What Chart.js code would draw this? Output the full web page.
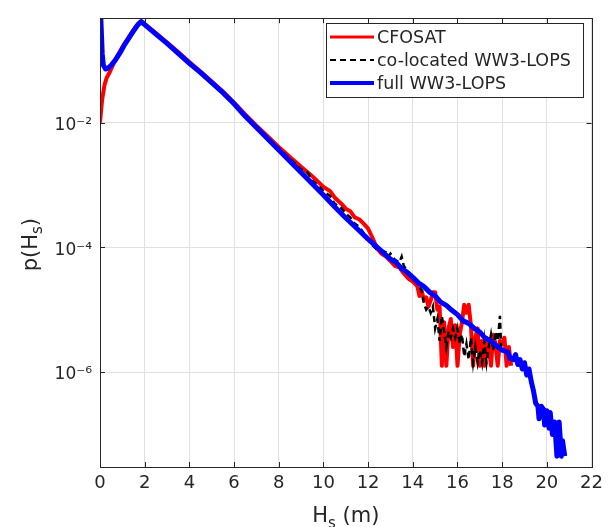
<!DOCTYPE html>
<html>
<head>
<meta charset="utf-8">
<script src="https://cdn.jsdelivr.net/npm/chart.js@4/dist/chart.umd.min.js"></script>
<style>
  body { margin: 0; background: #fff; }
  canvas { display: block; }
</style>
</head>
<body>
<canvas id="grafica" width="609" height="527"></canvas>
<script>
// DATOS (Hs en m, p(Hs))
const hsCfosat = [0, 0.05, 0.1, 0.2, 0.3, 0.45, 0.6, 0.8, 1.0, 1.2, 1.4, 1.6, 1.8,
  2.0, 2.5, 3.0, 3.5, 4.0, 4.5, 5.0, 5.5, 6.0, 6.5, 7.0, 7.5, 8.0, 8.5, 9.0, 9.5,
  10.0, 10.3, 10.5, 10.8, 11.0, 11.2, 11.4, 11.6, 11.8, 12.0, 12.2, 12.4, 12.6, 12.8,
  13.0, 13.2, 13.4, 13.6, 13.8, 14.0, 14.2, 14.3, 14.4, 14.5, 14.6, 14.7, 14.8, 14.9,
  15.0, 15.1, 15.2, 15.3, 15.4, 15.5, 15.6, 15.7, 15.8, 15.9, 16.0, 16.1, 16.2, 16.3,
  16.4, 16.5, 16.6, 16.7, 16.8, 16.9, 17.0, 17.1, 17.2, 17.3, 17.4, 17.5, 17.6, 17.7,
  17.8, 17.9, 18.0, 18.1, 18.2, 18.3, 18.4];
const pCfosat = [0.0100, 0.0158, 0.0240, 0.0398, 0.0525, 0.0661, 0.0871, 0.120, 0.162, 0.209, 0.269, 0.347, 0.417,
  0.380, 0.272, 0.193, 0.135, 0.0933, 0.0661, 0.0457, 0.0316, 0.0209, 0.0135, 0.00891, 0.00603, 0.00407, 0.00282, 0.00195, 0.00138,
  9.33e-4, 7.94e-4, 6.31e-4, 5.01e-4, 4.17e-4, 3.80e-4, 3.02e-4, 2.82e-4, 2.40e-4, 2.00e-4, 1.41e-4, 9.55e-5, 7.94e-5, 7.08e-5,
  6.03e-5, 5.01e-5, 4.79e-5, 3.80e-5, 3.16e-5, 2.82e-5, 2.40e-5, 1.66e-5, 2.00e-5, 1.41e-5, 1.58e-5, 1.12e-5, 1.41e-5, 1.91e-5,
  1.91e-5, 1.00e-5, 1.12e-5, 1.26e-6, 6.31e-6, 1.26e-6, 5.01e-6, 7.08e-6, 2.51e-6, 5.62e-6, 1.26e-6, 3.98e-6, 6.31e-6, 1.20e-5,
  8.91e-6, 1.20e-5, 5.62e-6, 1.26e-6, 3.55e-6, 5.01e-6, 1.26e-6, 3.16e-6, 1.26e-6, 3.55e-6, 2.51e-6, 1.26e-6, 3.98e-6, 2.82e-6,
  1.26e-6, 3.16e-6, 2.82e-6, 3.55e-6, 1.26e-6, 2.51e-6, 1.26e-6];

const hsColoc = [0.7, 1.0, 1.3, 1.6, 1.85, 2.0, 2.5, 3.0, 3.5, 4.0, 4.5, 5.0, 5.5, 6.0, 6.5, 7.0, 7.5, 8.0, 8.5,
  9.0, 9.3, 9.5, 9.8, 10.0, 10.3, 10.5, 10.8, 11.0, 11.2, 11.4, 11.6, 11.8, 12.0, 12.2, 12.4, 12.6, 12.8, 12.9,
  13.0, 13.2, 13.4, 13.5, 13.6, 13.8, 14.0, 14.2, 14.4, 14.5, 14.6, 14.7, 14.8, 14.9, 15.0, 15.1, 15.2, 15.3,
  15.4, 15.5, 15.6, 15.7, 15.8, 15.9, 16.0, 16.1, 16.2, 16.3, 16.4, 16.5, 16.6, 16.7, 16.8, 16.9, 17.0, 17.1,
  17.2, 17.3, 17.4, 17.5, 17.6, 17.7, 17.8, 17.9, 17.95];
const pColoc = [0.102, 0.155, 0.229, 0.339, 0.417, 0.380, 0.269, 0.191, 0.132, 0.0912, 0.0646, 0.0447, 0.0309, 0.0204, 0.0132, 0.00871, 0.00589, 0.00389, 0.00263,
  0.00178, 0.00158, 0.00117, 9.55e-4, 7.94e-4, 6.61e-4, 5.01e-4, 4.27e-4, 3.47e-4, 3.02e-4, 2.40e-4, 2.14e-4, 1.70e-4, 1.32e-4, 1.07e-4, 9.12e-5, 8.91e-5, 8.32e-5, 7.08e-5,
  7.94e-5, 6.31e-5, 5.75e-5, 7.08e-5, 5.01e-5, 3.98e-5, 3.47e-5, 2.69e-5, 2.00e-5, 1.26e-5, 1.00e-5, 1.12e-5, 8.91e-6, 1.12e-5, 5.01e-6, 7.08e-6, 3.16e-6, 7.94e-6,
  4.47e-6, 2.51e-6, 4.47e-6, 3.55e-6, 5.01e-6, 3.55e-6, 5.01e-6, 2.82e-6, 3.98e-6, 1.78e-6, 2.82e-6, 1.58e-6, 3.55e-6, 1.41e-6, 2.51e-6, 1.41e-6, 2.24e-6, 1.41e-6,
  3.16e-6, 1.41e-6, 2.51e-6, 3.98e-6, 2.24e-6, 4.47e-6, 3.16e-6, 7.94e-6, 2.51e-6];

const hsFull = [0, 0.1, 0.15, 0.25, 0.35, 0.5, 0.7, 0.9, 1.1, 1.3, 1.5, 1.7, 1.85,
  2.0, 2.5, 3.0, 3.5, 4.0, 4.5, 5.0, 5.5, 6.0, 6.5, 7.0, 7.5, 8.0, 8.5, 9.0, 9.5,
  10.0, 10.5, 11.0, 11.5, 12.0, 12.5, 13.0, 13.25, 13.5, 13.75, 14.0, 14.25, 14.5, 14.75,
  15.0, 15.25, 15.5, 15.75, 16.0, 16.25, 16.5, 16.75, 17.0, 17.25, 17.5, 17.75, 18.0, 18.25, 18.35,
  18.5, 18.6, 18.7, 18.8, 18.9, 19.0, 19.1, 19.2, 19.3, 19.4, 19.5, 19.6, 19.65, 19.75, 19.85,
  19.9, 20.0, 20.1, 20.15, 20.25, 20.35, 20.45, 20.55, 20.65, 20.7, 20.8];
const pFull = [1.0, 0.126, 0.0832, 0.0724, 0.0741, 0.0832, 0.102, 0.132, 0.178, 0.229, 0.295, 0.372, 0.417,
  0.372, 0.263, 0.186, 0.129, 0.0891, 0.0631, 0.0437, 0.0302, 0.0200, 0.0126, 0.00832, 0.00550, 0.00363, 0.00240, 0.00158, 0.00105,
  6.92e-4, 4.47e-4, 2.95e-4, 2.00e-4, 1.35e-4, 9.33e-5, 6.46e-5, 5.75e-5, 4.57e-5, 3.98e-5, 3.31e-5, 2.69e-5, 2.34e-5, 1.91e-5,
  1.66e-5, 1.32e-5, 1.17e-5, 9.77e-6, 8.32e-6, 6.61e-6, 6.03e-6, 5.01e-6, 4.37e-6, 3.47e-6, 3.16e-6, 2.63e-6, 2.24e-6, 2.09e-6, 1.66e-6,
  1.58e-6, 1.91e-6, 1.32e-6, 1.58e-6, 1.12e-6, 1.41e-6, 8.91e-7, 1.12e-6, 7.08e-7, 5.01e-7, 3.16e-7, 2.82e-7, 1.78e-7, 2.82e-7, 2.51e-7,
  1.41e-7, 2.40e-7, 1.26e-7, 2.24e-7, 1.00e-7, 1.58e-7, 4.47e-8, 1.58e-7, 4.47e-8, 7.94e-8, 4.47e-8];

const xTicks = [0, 2, 4, 6, 8, 10, 12, 14, 16, 18, 20, 22];
const yTicks = [1e-6, 1e-4, 1e-2];
const yTickLabels = ['10\u207B\u2076', '10\u207B\u2074', '10\u207B\u00B2'];

const textColor = '#262626';
const fuente = 'DejaVu Sans';

const toPoints = (xs, ys) => xs.map((x, i) => ({ x: x, y: ys[i] }));

// EJES, TITULOS Y LEYENDA
const marco = {
  id: 'marco',
  afterDraw(chart) {
    const c = chart.ctx;
    const a = chart.chartArea;
    const sx = chart.scales.x;
    const sy = chart.scales.y;
    c.save();
    c.strokeStyle = textColor;
    c.lineWidth = 1;
    c.strokeRect(Math.round(a.left) + 0.5, Math.round(a.top) + 0.5, Math.round(a.right - a.left), Math.round(a.bottom - a.top));
    c.beginPath();
    xTicks.forEach((v) => {
      const px = Math.round(sx.getPixelForValue(v)) + 0.5;
      c.moveTo(px, a.bottom); c.lineTo(px, a.bottom - 5);
      c.moveTo(px, a.top); c.lineTo(px, a.top + 5);
    });
    yTicks.forEach((v) => {
      const py = Math.round(sy.getPixelForValue(v)) + 0.5;
      c.moveTo(a.left, py); c.lineTo(a.left + 5, py);
      c.moveTo(a.right, py); c.lineTo(a.right - 5, py);
    });
    c.stroke();

    // titulo eje x: Hs (m)
    c.fillStyle = textColor;
    c.textBaseline = 'alphabetic';
    c.textAlign = 'left';
    const big = '21px ' + fuente;
    const small = '15px ' + fuente;
    c.font = big;
    const wH = c.measureText('H').width;
    const wM = c.measureText(' (m)').width;
    c.font = small;
    const wS = c.measureText('s').width;
    let x0 = (a.left + a.right) / 2 - (wH + wS + wM) / 2;
    c.font = big;
    c.fillText('H', x0, 522);
    c.font = small;
    c.fillText('s', x0 + wH, 528);
    c.font = big;
    c.fillText(' (m)', x0 + wH + wS, 522);

    // titulo eje y: p(Hs)
    c.save();
    c.translate(37, (a.top + a.bottom) / 2 + 2);
    c.rotate(-Math.PI / 2);
    c.font = big;
    const wP = c.measureText('p(H').width;
    const wC = c.measureText(')').width;
    c.font = small;
    const wS2 = c.measureText('s').width;
    let y0 = -(wP + wS2 + wC) / 2;
    c.font = big;
    c.fillText('p(H', y0, 0);
    c.font = small;
    c.fillText('s', y0 + wP, 5);
    c.font = big;
    c.fillText(')', y0 + wP + wS2, 0);
    c.restore();

    // leyenda
    c.fillStyle = '#ffffff';
    c.fillRect(326, 23, 257, 74);
    c.strokeStyle = textColor;
    c.strokeRect(326.5, 23.5, 257, 74);
    const filas = [37, 60, 83];
    chart.data.datasets.forEach((ds, i) => {
      c.beginPath();
      c.strokeStyle = ds.borderColor;
      c.lineWidth = i === 1 ? 2 : (i === 0 ? 3 : 4);
      c.setLineDash(ds.borderDash || []);
      c.moveTo(330, filas[i]); c.lineTo(374, filas[i]);
      c.stroke();
      c.setLineDash([]);
      c.fillStyle = textColor;
      c.font = '17.5px ' + fuente;
      c.textBaseline = 'middle';
      c.fillText(ds.label, 377, filas[i] + 1);
    });
    c.restore();
  }
};

const grafica = document.getElementById('grafica');
new Chart(grafica, {
  type: 'line',
  data: {
    datasets: [
      { label: 'CFOSAT', data: toPoints(hsCfosat, pCfosat), borderColor: '#ff0000', borderWidth: 4, order: 3, borderJoinStyle: 'round' },
      { label: 'co-located WW3-LOPS', data: toPoints(hsColoc, pColoc), borderColor: '#000000', borderWidth: 2.5, borderDash: [6, 4], order: 2 },
      { label: 'full WW3-LOPS', data: toPoints(hsFull, pFull), borderColor: '#0000ff', borderWidth: 5, order: 1, borderJoinStyle: 'round' }
    ]
  },
  options: {
    responsive: false,
    animation: false,
    devicePixelRatio: 1,
    layout: { padding: { top: 11, right: 14, left: 0, bottom: 0 } },
    elements: { point: { radius: 0 }, line: { tension: 0, fill: false } },
    plugins: { legend: { display: false }, tooltip: { enabled: false } },
    scales: {
      x: {
        type: 'linear', min: 0, max: 22,
        afterBuildTicks: (s) => { s.ticks = xTicks.map((v) => ({ value: v })); },
        afterFit: (s) => { s.height = 60; },
        ticks: { color: textColor, font: { family: fuente, size: 18 }, padding: 6, maxRotation: 0 },
        grid: { color: '#e0e0e0', drawTicks: false },
        border: { display: false }
      },
      y: {
        type: 'logarithmic', min: 3.14e-8, max: 0.472,
        afterBuildTicks: (s) => { s.ticks = yTicks.map((v) => ({ value: v })); },
        afterFit: (s) => { s.width = 100; },
        ticks: {
          color: textColor, font: { family: fuente, size: 17 }, padding: 8, labelOffset: 3,
          callback: (v) => yTickLabels[yTicks.indexOf(v)]
        },
        grid: { color: '#e0e0e0', drawTicks: false },
        border: { display: false }
      }
    }
  },
  plugins: [marco]
});
</script>
</body>
</html>
